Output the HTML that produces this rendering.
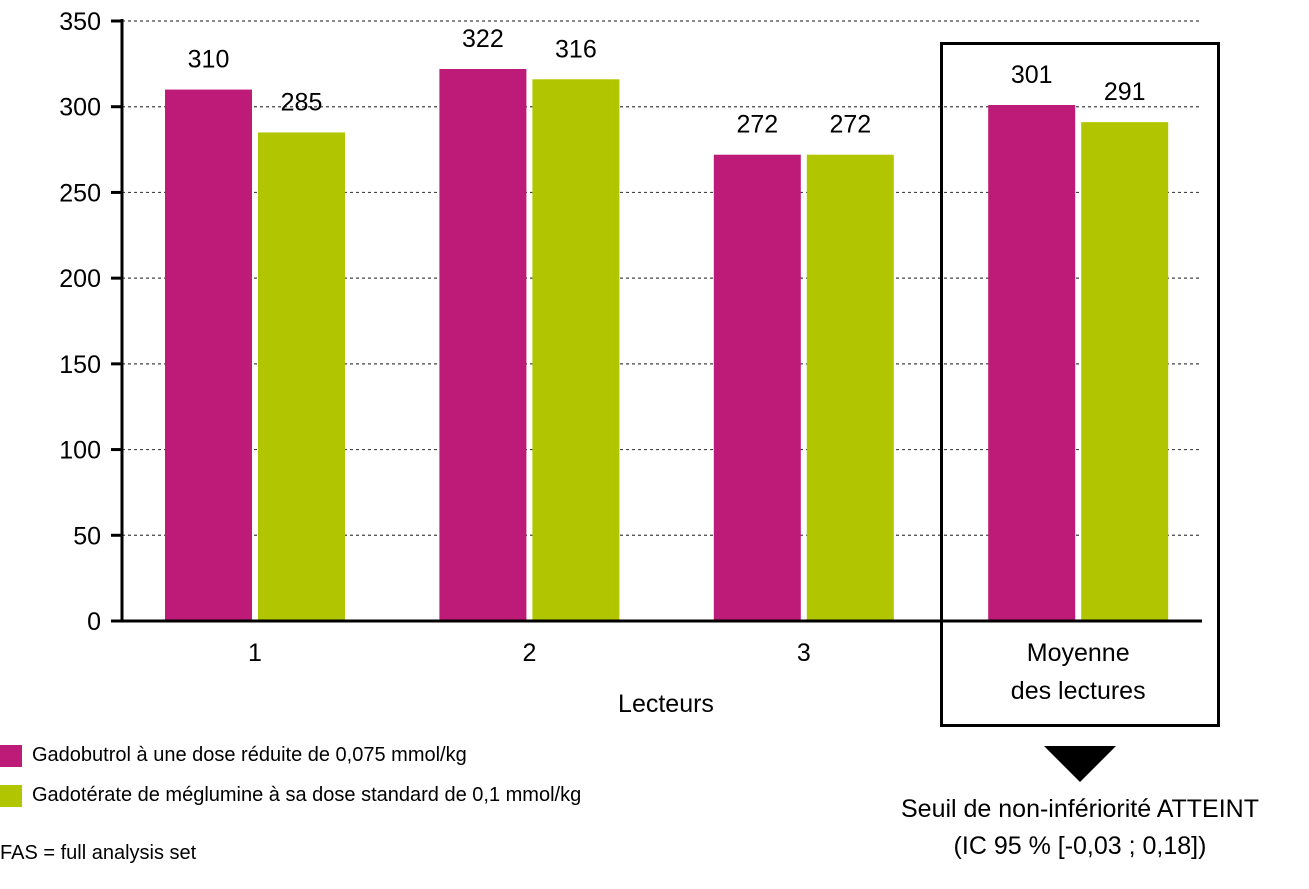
<!DOCTYPE html>
<html><head><meta charset="utf-8"><style>
body{margin:0;background:#fff;}
svg{display:block;font-family:"Liberation Sans",sans-serif;}
</style></head><body>
<svg id="c" width="1309" height="889"></svg>
<script>
const categories=["1","2","3","Moyenne|des lectures"];
const seriesA=[310,322,272,301];
const seriesB=[285,316,272,291];
const ticks=[0,50,100,150,200,250,300,350];
const NS="http://www.w3.org/2000/svg";
const svg=document.getElementById('c');
function mk(t,a,p){const e=document.createElementNS(NS,t);for(const k in a)e.setAttribute(k,a[k]);(p||svg).appendChild(e);return e;}
const y0=621,yMax=350,ph=600;
const y=v=>y0-v/yMax*ph;
const gx0=255,gstep=274.4;
const x=i=>gx0+i*gstep;
const bw=87,gap=6;
// grid & ticks
ticks.forEach(t=>{
  if(t>0){const g=mk('line',{x1:122,x2:1202,y1:y(t),y2:y(t),stroke:'#444','stroke-width':1.2,'stroke-dasharray':'3,3'});
  
  }
  const tk=mk('line',{x1:111,x2:122,y1:y(t),y2:y(t),stroke:'#000','stroke-width':3});
  
  
  const tl=mk('text',{x:101,y:y(t)+9,'text-anchor':'end','font-size':25});
  tl.textContent=t;
  
  
});
// bars
categories.forEach((c,i)=>{
  [[seriesA,'#be1a78',-1],[seriesB,'#b2c600',1]].forEach(([s,col,d],j)=>{
    const bx=d<0?x(i)-gap/2-bw:x(i)+gap/2;
    const r=mk('rect',{x:bx,y:y(s[i]),width:bw,height:y0-y(s[i]),fill:col});
    
    
    const t=mk('text',{x:bx+bw/2,y:y(s[i])-22,'text-anchor':'middle','font-size':25});
    t.textContent=s[i];
    
    
  });
  c.split('|').forEach((ln,k)=>{
    const t=mk('text',{x:x(i),y:661+k*38,'text-anchor':'middle','font-size':25});
    t.textContent=ln;
    
    
  });
});
// axes
const ax=mk('line',{x1:122,x2:122,y1:19,y2:622,stroke:'#000','stroke-width':3});


const bx=mk('line',{x1:112,x2:1202,y1:621,y2:621,stroke:'#000','stroke-width':3});


</script>
<div style="position:absolute;left:0;top:0;width:1309px;height:889px;pointer-events:none;font-family:'Liberation Sans',sans-serif;">
<div style="position:absolute;left:940px;top:42px;width:274px;height:679px;border:3px solid #000;"></div>
<div style="position:absolute;left:566px;top:690px;width:200px;text-align:center;font-size:25px;">Lecteurs</div>
<div style="position:absolute;left:1044px;top:746px;width:0;height:0;border-left:36px solid transparent;border-right:36px solid transparent;border-top:36px solid #000;"></div>
<div style="position:absolute;left:860px;top:791px;width:440px;text-align:center;font-size:25px;line-height:37px;">Seuil de non-infériorité ATTEINT<br>(IC 95 % [-0,03 ; 0,18])</div>
<div style="position:absolute;left:0;top:744px;font-size:20px;display:flex;align-items:center;"><span style="display:inline-block;width:22px;height:22px;background:#be1a78;margin-right:10px;"></span>Gadobutrol à une dose réduite de 0,075 mmol/kg</div>
<div style="position:absolute;left:0;top:784px;font-size:20px;display:flex;align-items:center;"><span style="display:inline-block;width:22px;height:22px;background:#b2c600;margin-right:10px;"></span>Gadotérate de méglumine à sa dose standard de 0,1 mmol/kg</div>
<div style="position:absolute;left:0;top:842px;font-size:20px;">FAS = full analysis set</div>
</div>
</body></html>
